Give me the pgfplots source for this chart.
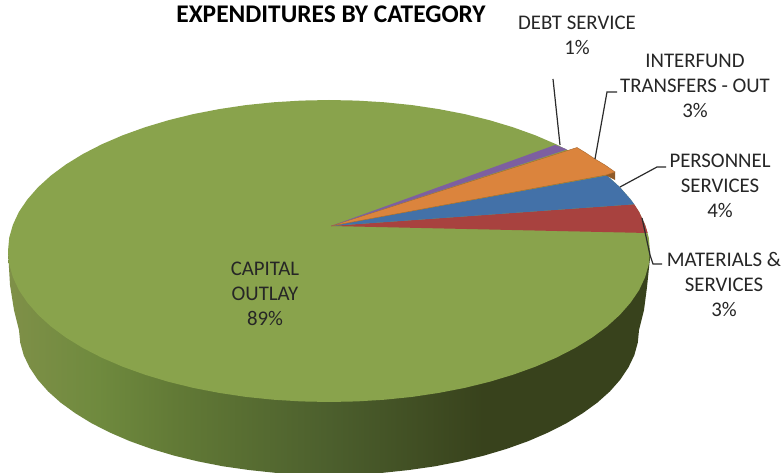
\documentclass[border=0pt]{standalone}
\usepackage{fontspec}
\setmainfont{Carlito}
\usepackage{pgfplots}
\pgfplotsset{compat=1.18}
\definecolor{cGreen}{HTML}{89A34C}
\definecolor{cRed}{HTML}{A8423F}
\definecolor{cBlue}{HTML}{4371A8}
\definecolor{cOrange}{HTML}{DB843D}
\definecolor{cPurple}{HTML}{7D5FA0}
\definecolor{cBrown}{HTML}{8F5A28}
\definecolor{cLine}{HTML}{2B2B2B}
\definecolor{cText}{HTML}{262626}
\definecolor{sA}{HTML}{7F9048}
\definecolor{sB}{HTML}{6F8A3E}
\definecolor{sC}{HTML}{627A36}
\definecolor{sD}{HTML}{4C5F2D}
\definecolor{sE}{HTML}{38421C}
\pgfdeclarehorizontalshading{pieside}{100bp}{
  color(0bp)=(sA);
  color(25bp)=(sA);
  color(32bp)=(sB);
  color(38bp)=(sC);
  color(50bp)=(sD);
  color(62bp)=(sE);
  color(75bp)=(sE);
  color(100bp)=(sE)}
\begin{document}
\begin{tikzpicture}[
  lbl/.style={align=center,text=cText,font=\fontsize{20.8}{25}\selectfont,inner sep=0pt}]
\begin{axis}[
  scale only axis, width=783pt, height=473pt,
  xmin=0, xmax=783, ymin=0, ymax=473, y dir=reverse,
  axis lines=none, clip=true]
% page
\addplot[fill=white,draw=none] coordinates {(0,0)(783,0)(783,473)(0,473)} --cycle;
% side wall
\addplot[draw=none,shading=pieside,shading angle=0] coordinates {
(8,251)(10,285)(14,310)(19,330)(20.2,342.6)(23.7,355.2)(29.6,367.5)(37.7,379.6)(48,391.3)(60.5,402.5)(75.1,413.1)(91.5,423.2)(109.8,432.5)(129.7,441.1)(151.2,448.8)(174,455.6)(198,461.4)(223,466.3)(248.8,470)(275.2,472.8)(302,474.4)(329,475)
(356,474.4)(382.8,472.8)(409.2,470)(435,466.3)(460,461.4)(484,455.6)(506.8,448.8)(528.3,441.1)(548.2,432.5)(566.5,423.2)(582.9,413.1)(597.5,402.5)(610,391.3)(620.3,379.6)(628.4,367.5)(634.3,355.2)(637.8,342.6)(639,330)(644,310)(647,287)(650,258)(650,251)} --cycle;
% top surface: capital outlay
\addplot[fill=cGreen,draw=none] coordinates {
(650,251)(648.8,237.8)(645.1,224.8)(639.1,211.9)(630.6,199.4)(619.9,187.2)(607,175.5)(592,164.4)(574.9,153.9)(556,144.2)(535.3,135.3)(513.1,127.3)(489.5,120.2)(464.7,114.1)(438.8,109.1)(412.1,105.1)(384.7,102.3)(357,100.6)(329,100)
(301,100.6)(273.3,102.3)(245.9,105.1)(219.2,109.1)(193.3,114.1)(168.5,120.2)(144.9,127.3)(122.7,135.3)(102,144.2)(83.1,153.9)(66,164.4)(51,175.5)(38.1,187.2)(27.4,199.4)(18.9,211.9)(12.9,224.8)(9.2,237.8)(8,251)
(9.2,264.2)(12.9,277.2)(18.9,290.1)(27.4,302.6)(38.1,314.8)(51,326.5)(66,337.6)(83.1,348.1)(102,357.8)(122.7,366.7)(144.9,374.7)(168.5,381.8)(193.3,387.9)(219.2,392.9)(245.9,396.9)(273.3,399.7)(301,401.4)(329,402)
(357,401.4)(384.7,399.7)(412.1,396.9)(438.8,392.9)(464.7,387.9)(489.5,381.8)(513.1,374.7)(535.3,366.7)(556,357.8)(574.9,348.1)(592,337.6)(607,326.5)(619.9,314.8)(630.6,302.6)(639.1,290.1)(645.1,277.2)(648.8,264.2)} --cycle;
% materials & services
\addplot[fill=cRed,draw=none] coordinates {
(331,226)(647.7,233)(645.1,224.8)(639.1,211.9)(634.3,204.3)} --cycle;
% personnel services
\addplot[fill=cBlue,draw=none] coordinates {
(331,226)(634.3,204.3)(630.6,199.4)(619.9,187.2)(607,175.5)} --cycle;
% interfund transfers side
\addplot[fill=cBrown,draw=none] coordinates {(605,175)(615,172)(615,180)} --cycle;
% interfund transfers - out
\addplot[fill=cOrange,draw=cBrown!70!cOrange,line width=0.4pt] coordinates {
(331,226)(577,147.5)(586,153)(595,159)(605,165)(615,172)(606,175)} --cycle;
% debt service
\addplot[fill=cPurple,draw=none] coordinates {
(331,226)(555,145)(561,147)(567,149.5)} --cycle;
% leader lines
\addplot[cLine,line width=1.2pt] coordinates {(553,79)(560,145)};
\addplot[cLine,line width=1.2pt] coordinates {(617,92)(607,92)(595,159)};
\addplot[cLine,line width=1.2pt] coordinates {(666,167)(657,167)(620,187)};
\addplot[cLine,line width=1.2pt] coordinates {(642,218)(650,255)(653,264)(662,264)};
% texts
\node[font=\fontsize{25.4}{28}\selectfont\bfseries,text=black,inner sep=0pt] at (axis cs:331,14) {EXPENDITURES BY CATEGORY};
\node[lbl] at (axis cs:577,35.5) {DEBT SERVICE\\1\%};
\node[lbl] at (axis cs:695,86) {INTERFUND\\TRANSFERS - OUT\\3\%};
\node[lbl] at (axis cs:720,186) {PERSONNEL\\SERVICES\\4\%};
\node[lbl] at (axis cs:724,284.5) {MATERIALS \&\\SERVICES\\3\%};
\node[lbl] at (axis cs:265,294) {CAPITAL\\OUTLAY\\89\%};
\end{axis}
\end{tikzpicture}
\end{document}
